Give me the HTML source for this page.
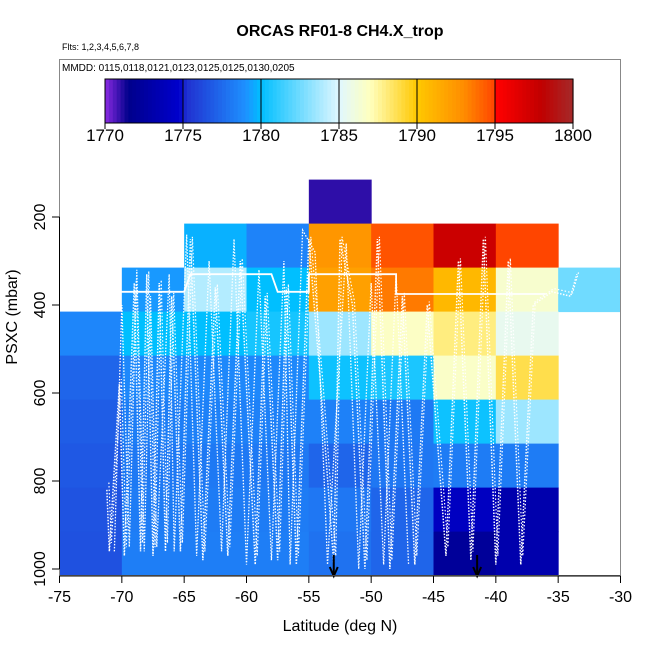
<!DOCTYPE html>
<html><head><meta charset="utf-8"><style>
body{margin:0;background:#fff}
svg{display:block;font-family:"Liberation Sans",Arial,sans-serif}
</style></head><body>
<svg id="c" width="650" height="650" xmlns="http://www.w3.org/2000/svg">
<text x="340" y="36" text-anchor="middle" font-size="16" font-weight="bold">ORCAS RF01-8 CH4.X_trop</text>
<text x="62" y="50" font-size="9">Flts: 1,2,3,4,5,6,7,8</text>
<g id="cells"></g>
<g id="tracks"></g>
<rect x="59.5" y="59.5" width="561" height="516" fill="none" stroke="#888" stroke-width="1"/>
<text x="62" y="71" font-size="10">MMDD: 0115,0118,0121,0123,0125,0125,0130,0205</text>
<g id="cbar"></g>
<g id="axes"></g>
<text x="340" y="631" text-anchor="middle" font-size="16">Latitude (deg N)</text>
<text transform="translate(17,317) rotate(-90)" text-anchor="middle" font-size="16">PSXC (mbar)</text>
</svg>
<script>
const latEdges=[-75,-70,-65,-60,-55,-50,-45,-40,-35,-30];
const pEdges=[115,215,315,415,515,615,715,815,915,1015];
const cellValues=[
[null,null,null,null,1771,null,null,null,null],
[null,null,1779.7,1778.5,1792.5,1794.6,1797.5,1795.0,null],
[null,1779.2,1784,1780,1792,1793.5,1790.8,1786.5,1782.5],
[1778.6,1780,1780,1780.5,1783.5,1786.8,1788.0,1785.5,null],
[1777.3,1778.7,1778.7,1778.7,1780.3,1780.6,1786.7,1788.8,null],
[1777,1778.3,1778.4,1778.4,1778.4,1778.1,1780.3,1783.5,null],
[1776.8,1778.1,1778.1,1778.1,1777.3,1778,1778.2,1778.2,null],
[1776.6,1778.2,1778.2,1778.2,1778,1777.3,1774.2,1773.2,null],
[1776.5,1778.3,1778.3,1778.3,1777.8,1777.3,1772.2,1773.2,null]];
const xTicks=[-75,-70,-65,-60,-55,-50,-45,-40,-35,-30];
const yTicks=[200,400,600,800,1000];
const cbTicks=[1770,1775,1780,1785,1790,1795,1800];
const trackLat=[-71.2,-71,-70.2,-69.8,-69,-68.5,-68,-67.5,-67,-66.5,-66,-65.3,-64.5,-63.5,-62.5,-61.5,-60.5,-59.3,-58.5,-57.5,-56.8,-56,-55,-54,-53,-52.5,-51.5,-50.5,-49.5,-48.5,-47.5,-46.5,-45.5,-44,-43,-42,-41,-40,-39,-38,-37,-35.5,-34,-33.5];
const trackP=[820,960,580,970,350,960,330,970,350,960,380,960,250,980,360,970,300,990,380,980,360,990,250,600,990,250,400,1000,250,1000,380,990,400,970,300,980,250,990,300,990,400,370,380,330];
const track2Lat=[-70.6,-70,-69.4,-68.8,-68.2,-67.7,-67.2,-66.2,-65.8,-64.8,-64,-63,-62,-61,-60,-59,-58,-57,-56.5,-55.5,-54.5,-53.5,-52,-51,-50,-49,-48,-47];
const track2P=[960,400,950,320,960,380,950,330,960,240,970,300,960,250,990,320,980,300,990,230,280,990,260,1000,350,990,330,990];
const cruiseLat=[-70.5,-65,-64.5,-58,-57.5,-55,-55,-48,-48,-36];
const cruiseP=[370,370,330,330,370,370,330,330,375,375];
const arrowLats=[-53,-41.5];

const NS="http://www.w3.org/2000/svg";
const X=v=>59.5+(v+75)*(561/45);
const Y=p=>217+(p-200)*0.44;
const stops=[[1770,[138,43,226]],[1771.5,[0,0,139]],[1774.8,[0,0,205]],[1775.2,[32,48,208]],[1779,[30,144,255]],[1780,[0,191,255]],[1785,[224,247,255]],[1787,[255,255,190]],[1790,[255,200,0]],[1793,[255,140,0]],[1795,[255,69,0]],[1795.1,[255,0,0]],[1798,[192,0,0]],[1800,[165,42,42]]];
function col(v){for(let i=0;i<stops.length-1;i++){const a=stops[i],b=stops[i+1];if(v<=b[0]){const t=Math.max(0,(v-a[0])/(b[0]-a[0]));const c=a[1].map((x,k)=>Math.round(x+(b[1][k]-x)*t));return `rgb(${c})`;}}return 'rgb(165,42,42)';}
function mk(t,at,parent){const e=document.createElementNS(NS,t);for(const k in at)e.setAttribute(k,at[k]);parent.appendChild(e);return e;}
const cells=document.getElementById('cells');
cellValues.forEach((row,r)=>row.forEach((v,c)=>{if(v==null)return;
const e=mk('rect',{x:X(latEdges[c]),y:Y(pEdges[r]),width:X(latEdges[c+1])-X(latEdges[c])+0.5,height:Y(pEdges[r+1])-Y(pEdges[r])+0.5,fill:col(v)},cells);

}));
const tr=document.getElementById('tracks');
const pl=mk('polyline',{points:trackLat.map((l,i)=>X(l)+','+Y(trackP[i])).join(' '),fill:'none',stroke:'#fff','stroke-width':1.5,'stroke-dasharray':'1.5 1.5'},tr);


const pl2=mk('polyline',{points:trackLat.map((l,i)=>(X(l)+2)+','+Y(trackP[i]*0.98)).join(' '),fill:'none',stroke:'#fff','stroke-width':1.2,'stroke-dasharray':'1.5 2'},tr);


const pl3=mk('polyline',{points:track2Lat.map((l,i)=>X(l)+','+Y(track2P[i])).join(' '),fill:'none',stroke:'#fff','stroke-width':1.3,'stroke-dasharray':'1.5 1.5'},tr);


const cr=mk('polyline',{points:cruiseLat.map((l,i)=>X(l)+','+Y(cruiseP[i])).join(' '),fill:'none',stroke:'#fff','stroke-width':1.8},tr);


arrowLats.forEach(l=>{const g=mk('g',{},tr);


mk('line',{x1:X(l),y1:555,x2:X(l),y2:575,stroke:'#000','stroke-width':2},g);
mk('polyline',{points:`${X(l)-4},567 ${X(l)},576 ${X(l)+4},567`,fill:'none',stroke:'#000','stroke-width':2},g);});
const cb=document.getElementById('cbar');const cx0=105,cx1=573,cy0=79,cy1=123;
const CX=v=>cx0+(v-1770)*(cx1-cx0)/30;
for(let v=1770;v<1800;v+=0.25){mk('rect',{x:CX(v),y:cy0,width:(cx1-cx0)/120+0.6,height:cy1-cy0,fill:col(v+0.125)},cb);}
mk('rect',{x:cx0,y:cy0,width:cx1-cx0,height:cy1-cy0,fill:'none',stroke:'#000','stroke-width':1},cb);
cbTicks.forEach(t=>{mk('line',{x1:CX(t),y1:cy0,x2:CX(t),y2:cy1+6,stroke:'#000','stroke-width':1},cb);
const tx=mk('text',{x:CX(t),y:141,'text-anchor':'middle','font-size':17},cb);tx.textContent=t;

});
const ax=document.getElementById('axes');
mk('line',{x1:59.5,y1:576,x2:620.5,y2:576,stroke:'#000'},ax);
mk('line',{x1:59.5,y1:Y(200),x2:59.5,y2:Y(1000),stroke:'#000'},ax);
xTicks.forEach(t=>{mk('line',{x1:X(t),y1:576,x2:X(t),y2:583,stroke:'#000'},ax);
const tx=mk('text',{x:X(t),y:602,'text-anchor':'middle','font-size':16},ax);tx.textContent=t;

});
yTicks.forEach(t=>{mk('line',{x1:52,y1:Y(t),x2:59.5,y2:Y(t),stroke:'#000'},ax);
const tx=mk('text',{'text-anchor':'middle','font-size':16,transform:`translate(45,${Y(t)}) rotate(-90)`},ax);tx.textContent=t;

});
</script>
</body></html>
